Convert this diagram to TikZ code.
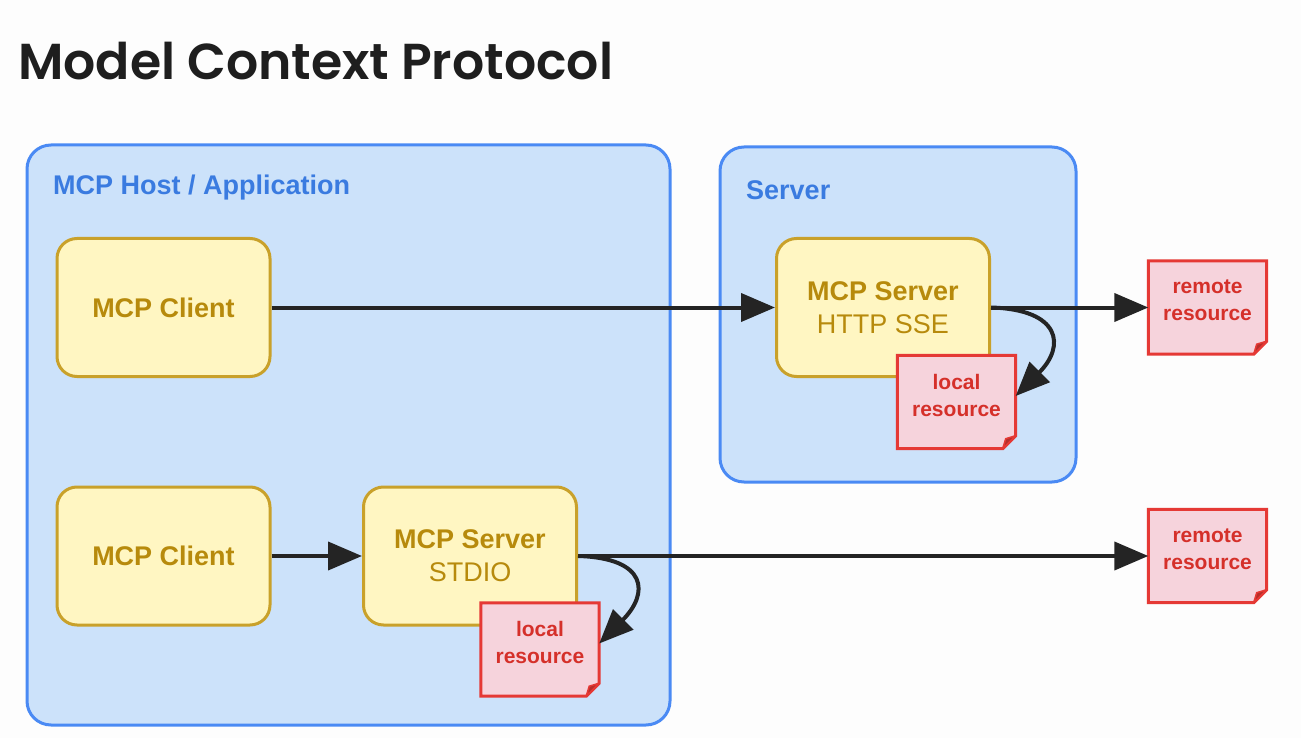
\documentclass[tikz,border=0pt]{standalone}
\usepackage{fontspec}
\setmainfont{Liberation Sans}
\newfontfamily\titlefont{Poppins}[UprightFont=* SemiBold]
\usetikzlibrary{arrows.meta}
\definecolor{bgc}{HTML}{FDFDFD}
\definecolor{hostfill}{HTML}{CCE2FA}
\definecolor{hostdraw}{HTML}{4A8AF4}
\definecolor{hosttext}{HTML}{3A7BE0}
\definecolor{yfill}{HTML}{FFF6C2}
\definecolor{ydraw}{HTML}{C9A12A}
\definecolor{ytext}{HTML}{B78A0C}
\definecolor{pfill}{HTML}{F6D3DC}
\definecolor{pdraw}{HTML}{E53935}
\definecolor{ptext}{HTML}{D5302A}
\definecolor{arrc}{HTML}{242424}
\definecolor{titlec}{HTML}{1E1E1E}
\tikzset{
  groupbox/.style={draw=hostdraw, fill=hostfill, line width=3pt, rounded corners=24pt, inner sep=0pt},
  grouplbl/.style={text=hosttext, font=\fontsize{27}{30}\selectfont\bfseries, anchor=west, inner sep=0pt},
  ybox/.style={draw=ydraw, fill=yfill, line width=3pt, rounded corners=20pt, minimum width=213pt, minimum height=138pt, text=ytext, align=center, font=\fontsize{27}{33}\selectfont, inner sep=0pt},
  doc/.style={rectangle, minimum width=118pt, minimum height=93pt, inner sep=0pt},
  docshape/.style={draw=pdraw, fill=pfill, line width=3pt, line join=miter},
  doctext/.style={text=ptext, align=center, font=\fontsize{21}{27}\selectfont\bfseries, inner sep=0pt},
  arr/.style={draw=arrc, line width=4pt, -{Triangle[length=34pt,width=28pt]}},
  foldc/.style={fill=pdraw!80!black, draw=pdraw, line width=1.5pt, line join=round}
}
\newcommand{\docbody}[1]{%
  \filldraw[docshape] (#1.north west) -- (#1.north east) -- ([yshift=13pt]#1.south east) -- ([xshift=-13pt]#1.south east) -- (#1.south west) -- cycle;
  \filldraw[foldc] ([yshift=13pt]#1.south east) -- ([xshift=-13pt]#1.south east) -- ([shift={(-10pt,10pt)}]#1.south east) -- cycle;}
\begin{document}
\begin{tikzpicture}[x=1pt,y=-1pt]
\useasboundingbox (0,0) rectangle (1301,738);
\fill[bgc] (0,0) rectangle (1301,738);
\node[anchor=base west, inner sep=0pt, text=titlec, font=\titlefont\fontsize{50.5}{56}\selectfont] (title) at (18,80) {Model Context Protocol};
% group boxes
\node[groupbox, minimum width=643pt, minimum height=580pt] (host) at (348.5,435) {};
\node[grouplbl] (hostlbl) at (53,188) {MCP Host / Application};
\node[groupbox, minimum width=356pt, minimum height=335pt] (srv) at (898,314.5) {};
\node[grouplbl] (srvlbl) at (746,190) {Server};
% clients and servers
\node[ybox] (c1) at (163.5,307.5) {\textbf{MCP Client}};
\node[ybox] (c2) at (163.5,556) {\textbf{MCP Client}};
\node[ybox] (s1) at (883,307.5) {\textbf{MCP Server}\\HTTP SSE};
\node[ybox] (s2) at (470,556) {\textbf{MCP Server}\\STDIO};
% resources
\node[doc] (l1) at (956.5,402) {};
\docbody{l1}
\node[doctext] (l1t) at ([yshift=7pt]l1.center) {local\\resource};
\node[doc] (l2) at (540,649.5) {};
\docbody{l2}
\node[doctext] (l2t) at ([yshift=7pt]l2.center) {local\\resource};
\node[doc] (r1) at (1207.5,307.5) {};
\docbody{r1}
\node[doctext] (r1t) at ([yshift=7pt]r1.center) {remote\\resource};
\node[doc] (r2) at (1207.5,556) {};
\docbody{r2}
\node[doctext] (r2t) at ([yshift=7pt]r2.center) {remote\\resource};
% connectors
\draw[arr] (c1.east) -- (s1.west);
\draw[arr] (s1.east) -- (r1.west);
\draw[arr] (c2.east) -- (s2.west);
\draw[arr] (s2.east) -- (r2.west);
\draw[arr] (s1.east) .. controls +(70,2) and +(50,-50) .. ([yshift=6pt]l1.east);
\draw[arr] (s2.east) .. controls +(70,2) and +(50,-50) .. ([yshift=6pt]l2.east);
\end{tikzpicture}
\end{document}
